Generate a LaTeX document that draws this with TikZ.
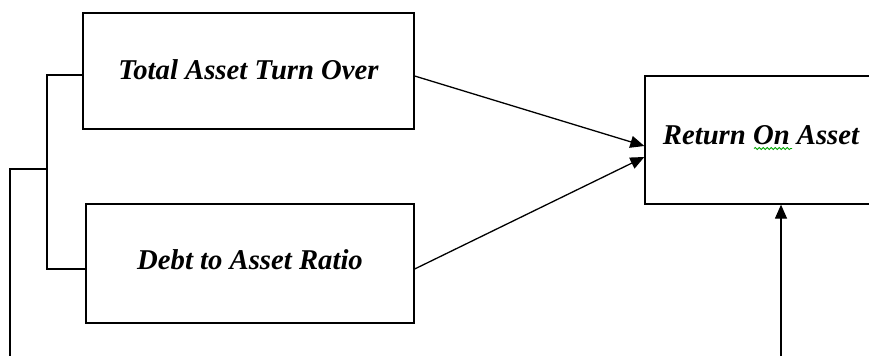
\documentclass[tikz,border=0pt]{standalone}
\usepackage{fontspec}
\setmainfont{Liberation Serif}
\usetikzlibrary{arrows.meta,calc,decorations.pathmorphing}
\tikzset{
  ratio/.style={draw, line width=1.3pt, rectangle, inner sep=0pt,
    font=\fontsize{28.7}{31}\selectfont\bfseries\itshape},
  link/.style={line width=1.3pt},
  flow/.style={line width=1.3pt, -{Triangle[length=14pt,width=12pt]}},
  squiggle/.style={draw=green!65!black, line width=0.8pt,
    decorate, decoration={snake, amplitude=1.1pt, segment length=4pt}}
}
\begin{document}
\begin{tikzpicture}[x=1pt, y=-1pt]
  \useasboundingbox (0,0) rectangle (869,356);
  \clip (0,0) rectangle (869,356);

  % ratio boxes
  \node[ratio, minimum width=331pt, minimum height=116pt, text depth=2pt] (tat) at (248.5,71) {Total Asset Turn Over};
  \node[ratio, minimum width=328pt, minimum height=119pt, text depth=7pt] (dar) at (250,263.5) {Debt to Asset Ratio};
  \node[ratio, minimum width=232pt, minimum height=128pt, text depth=10pt] (roa) at (761,140) {Return On Asset};

  % spell-check mark under "On"
  \draw[squiggle] (754,148.5) -- (792,148.5);

  % bracket joining the two ratios
  \coordinate (bt) at (47,75);
  \coordinate (bb) at (47,269);
  \coordinate (bm) at (47,169);
  \coordinate (lead) at (10,169);
  \coordinate (leadend) at (10,356);
  \draw[link] (tat.west |- bt) -- (bt) -- (bb) -- (dar.west |- bb);
  \draw[link] (bm) -- (lead) -- (leadend);

  % arrows into Return On Asset
  \draw[flow] (tat.east |- 0,76) -- ($(roa.west)+(0,6)$);
  \draw[flow] (dar.east |- 0,269) -- ($(roa.west)+(0,17)$);
  \coordinate (feed) at (781,356);
  \draw[flow] (feed) -- (feed |- roa.south);
\end{tikzpicture}
\end{document}
